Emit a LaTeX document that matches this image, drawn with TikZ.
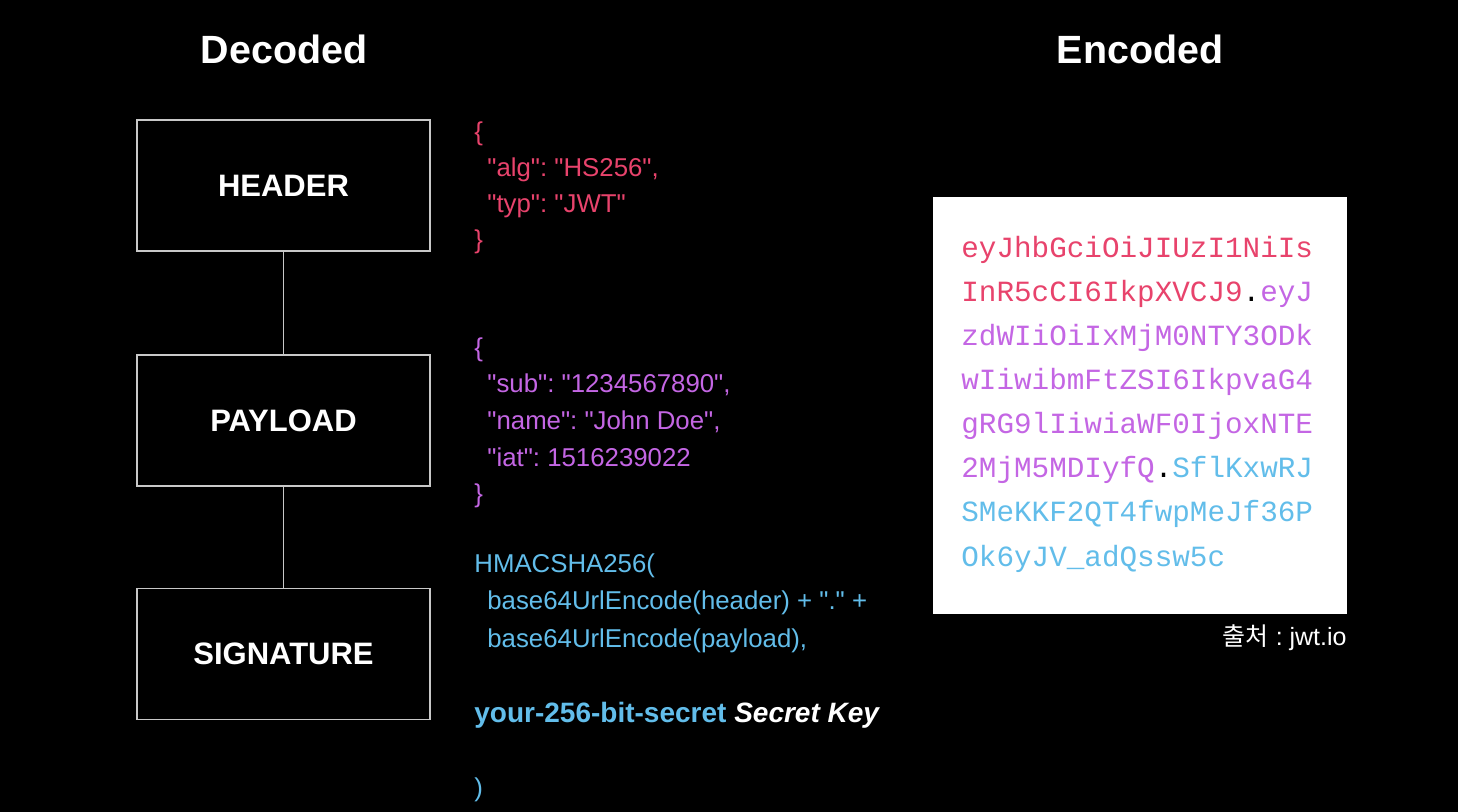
\documentclass[tikz,border=0pt]{standalone}
\usepackage{fontspec}
\setmainfont{Liberation Sans}
\newfontfamily\encfont{Liberation Mono}
\newfontfamily\krfont{Noto Sans CJK KR}
\definecolor{hdred}{HTML}{E8436C}
\definecolor{plpurple}{HTML}{C466E4}
\definecolor{sgblue}{HTML}{62BDEA}
\definecolor{boxline}{HTML}{C8C8C8}
\newcommand\qt{\textquotedbl}
\frenchspacing

\begin{document}
\begin{tikzpicture}[x=0.5pt, y=-0.5pt,
  part/.style={draw=boxline, line width=0.6pt, minimum width=146.5pt, minimum height=65.5pt,
    text=white, font=\fontsize{15.5}{18}\selectfont\bfseries},
  title/.style={anchor=base, text=white, font=\fontsize{19.7}{24}\selectfont\bfseries},
  code/.style={anchor=base west, inner sep=0pt, font=\fontsize{12.9}{15}\selectfont},
  enc/.style={anchor=base west, inner sep=0pt, font=\encfont\fontsize{14.65}{17}\selectfont}]
  \fill[black] (0,0) rectangle (1458,812);

  \node[title] (dectitle) at (284,64) {Decoded};
  \node[title] (enctitle) at (1140,64) {Encoded};

  \node[part] (header) at (283.5,185.5) {HEADER};
  \node[part] (payload) at (283.5,420.5) {PAYLOAD};
  \node[part] (signature) at (283.5,654) {SIGNATURE};
  \draw[boxline, line width=0.6pt] (header) -- (payload);
  \draw[boxline, line width=0.6pt] (payload) -- (signature);

  \node[code, text=hdred] (h1) at (474,141) {\{};
  \node[code, text=hdred] (h2) at (487,177) {\qt alg\qt: \qt HS256\qt,};
  \node[code, text=hdred] (h3) at (487,213) {\qt typ\qt: \qt JWT\qt};
  \node[code, text=hdred] (h4) at (474,249) {\}};

  \node[code, text=plpurple] (p1) at (474,357) {\{};
  \node[code, text=plpurple] (p2) at (487,393) {\qt sub\qt: \qt 1234567890\qt,};
  \node[code, text=plpurple] (p3) at (487,430) {\qt name\qt: \qt John Doe\qt,};
  \node[code, text=plpurple] (p4) at (487,467) {\qt iat\qt: 1516239022};
  \node[code, text=plpurple] (p5) at (474,503) {\}};

  \node[code, text=sgblue] (s1) at (474,573) {HMACSHA256(};
  \node[code, text=sgblue] (s2) at (487,610) {base64UrlEncode(header) + \qt.\qt\ +};
  \node[code, text=sgblue] (s3) at (487,647) {base64UrlEncode(payload),};
  \node[code, text=sgblue, font=\fontsize{14}{16}\selectfont] (s4) at (474,723) {\bfseries your-256-bit-secret \textcolor{white}{\itshape Secret Key}};
  \node[code, text=sgblue] (s5) at (474,797) {)};

  \node[fill=white, inner sep=0pt, minimum width=207pt, minimum height=208.5pt] (encbox) at (1140,405.5) {};
  \node[enc, text=hdred] (e1) at (961,258) {eyJhbGciOiJIUzI1NiIs};
  \node[enc] (e2) at (961,302) {\textcolor{hdred}{InR5cCI6IkpXVCJ9}.\textcolor{plpurple}{eyJ}};
  \node[enc, text=plpurple] (e3) at (961,346) {zdWIiOiIxMjM0NTY3ODk};
  \node[enc, text=plpurple] (e4) at (961,390) {wIiwibmFtZSI6IkpvaG4};
  \node[enc, text=plpurple] (e5) at (961,434) {gRG9lIiwiaWF0IjoxNTE};
  \node[enc] (e6) at (961,478) {\textcolor{plpurple}{2MjM5MDIyfQ}.\textcolor{sgblue}{SflKxwRJ}};
  \node[enc, text=sgblue] (e7) at (961,522) {SMeKKF2QT4fwpMeJf36P};
  \node[enc, text=sgblue] (e8) at (961,567) {Ok6yJV\_adQssw5c};

  \node[anchor=base east, inner sep=0pt, text=white, font=\fontsize{12.5}{15}\selectfont] (source) at (1347,646) {{\krfont 출처} : jwt.io};
\end{tikzpicture}
\end{document}
